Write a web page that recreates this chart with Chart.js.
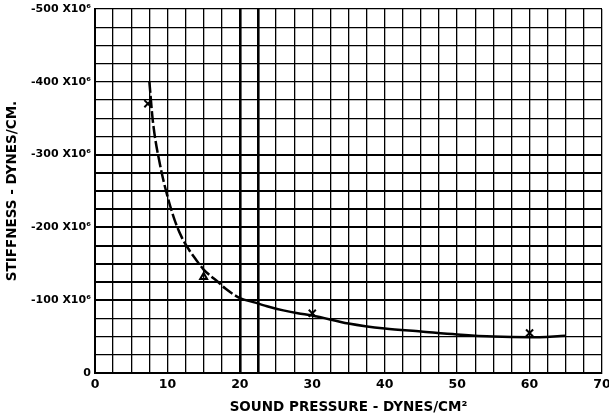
<!DOCTYPE html>
<html>
<head>
<meta charset="utf-8">
<script src="https://cdn.jsdelivr.net/npm/chart.js@4"></script>
<style>
  html, body { margin: 0; padding: 0; background: #fff; }
  #wrap { width: 609px; height: 416px; position: relative; }
</style>
</head>
<body>
<div id="wrap"><canvas id="c" width="609" height="416"></canvas></div>
<script>
// Sound pressure (dynes/cm^2) vs stiffness (x10^6 dynes/cm)
const curveX = [7.5, 8, 9, 10, 11, 12, 13, 14, 15, 16, 17, 18, 20, 22, 24, 26, 28, 30, 35, 40, 45, 50, 55, 60, 65];
const curveY = [401, 345, 285, 243, 210, 186, 169, 155, 142, 133, 125, 116, 103, 97, 91, 86, 82, 79, 68, 61, 57, 53, 50, 49, 51];
const crossX = [7.3, 30, 60];
const crossY = [370, 82, 55];
const triangleX = [15];
const triangleY = [132];
const xTickValues = [0, 10, 20, 30, 40, 50, 60, 70];
const yTickValues = [0, 100, 200, 300, 400, 500];
const yTickLabels = ['0', '-100 X10⁶', '-200 X10⁶', '-300 X10⁶', '-400 X10⁶', '-500 X10⁶'];

const toPts = (xs, ys) => xs.map((x, i) => ({ x: x, y: ys[i] }));
const FONT = 'DejaVu Sans';

new Chart(document.getElementById('c'), {
  type: 'scatter',
  data: {
    datasets: [
      {
        data: toPts(curveX, curveY),
        showLine: true,
        borderColor: '#000',
        borderWidth: 2.5,
        pointRadius: 0,
        cubicInterpolationMode: 'monotone',
        segment: {
          borderDash: ctx => ctx.p1.parsed.x <= 20 ? [12, 3] : undefined
        }
      },
      {
        data: toPts(crossX, crossY),
        pointStyle: 'crossRot',
        pointRadius: 5,
        borderColor: '#000',
        borderWidth: 2,
        showLine: false
      },
      {
        data: toPts(triangleX, triangleY),
        pointStyle: 'triangle',
        pointRadius: 4,
        backgroundColor: 'rgba(0,0,0,0)',
        borderColor: '#000',
        borderWidth: 2,
        showLine: false
      }
    ]
  },
  options: {
    responsive: false,
    animation: false,
    layout: { padding: { top: 9, right: 3, left: 0, bottom: 0 } },
    plugins: { legend: { display: false }, tooltip: { enabled: false } },
    scales: {
      x: {
        type: 'linear',
        min: 0, max: 70,
        ticks: {
          stepSize: 2.5,
          autoSkip: false,
          maxRotation: 0,
          padding: 4,
          color: '#000',
          font: { family: FONT, size: 12.5, weight: '600' },
          callback: v => xTickValues.includes(v) ? String(v) : ''
        },
        grid: {
          color: '#000',
          drawTicks: false,
          lineWidth: ctx => {
            const v = ctx.tick ? ctx.tick.value : 0;
            return (v === 20 || v === 22.5) ? 2.6 : 1.3;
          }
        },
        border: { color: '#000', width: 2 },
        title: {
          display: true,
          text: 'SOUND PRESSURE - DYNES/CM²',
          color: '#000',
          padding: { top: 3, bottom: 0 },
          font: { family: FONT, size: 13.5, weight: '600' }
        },
        afterFit: s => { s.height = 43; s.paddingLeft = 0; s.paddingRight = 0; }
      },
      y: {
        type: 'linear',
        min: 0, max: 500,
        ticks: {
          stepSize: 25,
          autoSkip: false,
          padding: 4,
          color: '#000',
          font: { family: FONT, size: 11, weight: '600' },
          callback: v => {
            const i = yTickValues.indexOf(v);
            return i >= 0 ? yTickLabels[i] : '';
          }
        },
        grid: {
          color: '#000',
          drawTicks: false,
          lineWidth: ctx => {
            const v = ctx.tick ? ctx.tick.value : 0;
            return (v >= 100 && v <= 300) ? 2 : 1.3;
          }
        },
        border: { color: '#000', width: 2 },
        title: {
          display: true,
          text: 'STIFFNESS - DYNES/CM.',
          color: '#000',
          padding: { top: 4, bottom: 2 },
          font: { family: FONT, size: 13.5, weight: '600' }
        },
        afterFit: s => { s.width = 95; s.paddingTop = 0; s.paddingBottom = 0; }
      }
    }
  }
});
</script>
</body>
</html>
